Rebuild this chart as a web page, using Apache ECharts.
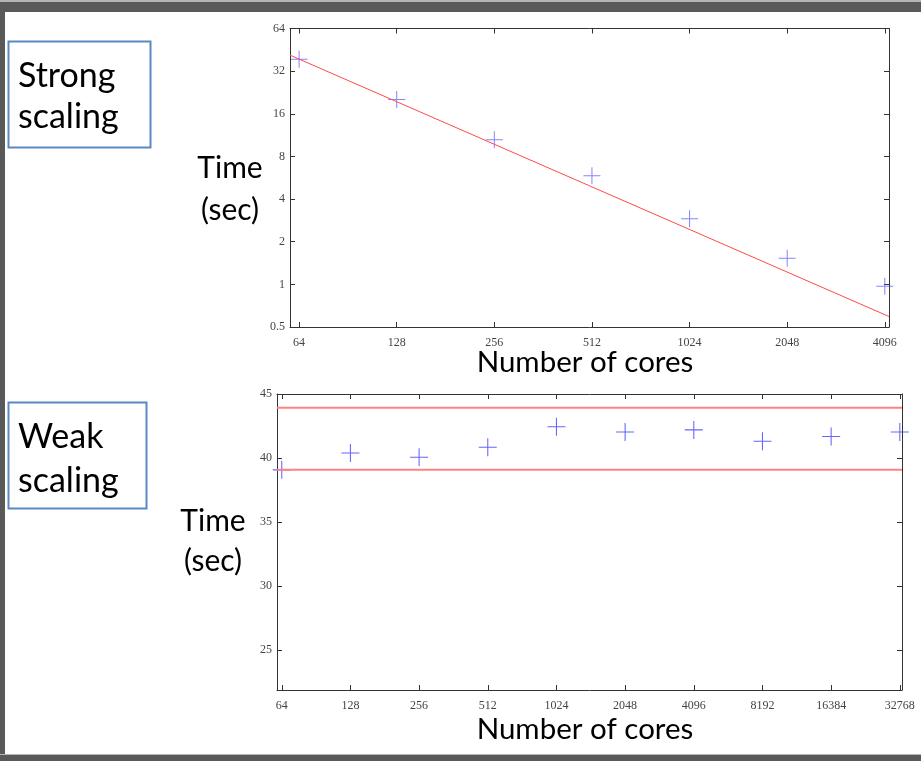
<!DOCTYPE html>
<html>
<head>
<meta charset="utf-8">
<script src="https://cdn.jsdelivr.net/npm/echarts@6/dist/echarts.min.js"></script>
<style>
  html, body { margin: 0; padding: 0; background: #fff; }
  #chart { width: 921px; height: 761px; }
</style>
</head>
<body>
<div id="chart"></div>
<script>
// strong scaling: time per run vs core count
var strongCores = [64, 128, 256, 512, 1024, 2048, 4096];
var strongTime = [38.9, 20.2, 10.5, 5.85, 2.9, 1.53, 0.97];
// ideal line, read at the plot edges
var idealCores = [60, 4220];
var idealTime = [41.5, 0.593];

// weak scaling
var weakCores = [64, 128, 256, 512, 1024, 2048, 4096, 8192, 16384, 32768];
var weakTime = [39.08, 40.4, 40.07, 40.85, 42.45, 42.04, 42.2, 41.32, 41.68, 42.04];
var boundCores = [61, 33500];
var upperBound = 43.93;
var lowerBound = 39.08;

var labelFont = 'Liberation Serif';
var textFont = 'Lato';
var axisColor = '#333';
var plus = 'path://M8,0 L9,0 L9,8 L17,8 L17,9 L9,9 L9,17 L8,17 L8,9 L0,9 L0,8 L8,8 Z';

function isPow2(v) {
    var e = Math.log(v) / Math.LN2;
    return Math.abs(e - Math.round(e)) < 1e-6;
}

function pow2Label(v) {
    return isPow2(v) ? String(Math.round(v)) : '';
}

//坐标轴公共样式，o里的字段覆盖默认值
function axis(o) {
    var base = {
        axisLine: { show: true, onZero: false, lineStyle: { color: axisColor, width: 1 } },
        axisTick: { show: true, inside: true, length: 5, lineStyle: { color: axisColor } },
        splitLine: { show: false },
        axisLabel: {
            show: true,
            fontFamily: labelFont,
            fontSize: 12,
            color: '#444',
            showMinLabel: false,
            showMaxLabel: false
        }
    };
    for (var k in o) {
        if (k === 'axisLabel') {
            for (var j in o[k]) base.axisLabel[j] = o[k][j];
        } else {
            base[k] = o[k];
        }
    }
    return base;
}

function pairs(xs, ys) {
    return xs.map(function (x, i) { return [x, ys[i]]; });
}

function label(x, y, str, size, align) {
    return {
        type: 'text', x: x, y: y,
        style: { text: str, font: size + 'px ' + textFont, fill: '#000', align: align || 'left', verticalAlign: 'middle' }
    };
}

var chart = echarts.init(document.getElementById('chart'));

var option = {
    animation: false,
    backgroundColor: '#fff',
    grid: [
        { left: 290, top: 28.5, width: 599, height: 298.5 },
        { left: 277, top: 394, width: 625, height: 296 }
    ],
    xAxis: [
        axis({ type: 'log', logBase: 2, gridIndex: 0, min: 60, max: 4220, position: 'bottom',
            axisLabel: { margin: 10, formatter: pow2Label } }),
        axis({ type: 'log', logBase: 2, gridIndex: 0, min: 60, max: 4220, position: 'top',
            axisLabel: { show: false } }),
        axis({ type: 'log', logBase: 2, gridIndex: 1, min: 61, max: 33500, position: 'bottom',
            axisLabel: { margin: 10, formatter: pow2Label } }),
        axis({ type: 'log', logBase: 2, gridIndex: 1, min: 61, max: 33500, position: 'top',
            axisLabel: { show: false } })
    ],
    yAxis: [
        axis({ type: 'log', logBase: 2, gridIndex: 0, min: 0.5, max: 64, position: 'left',
            axisLabel: { margin: 5, showMinLabel: true, showMaxLabel: true } }),
        axis({ type: 'log', logBase: 2, gridIndex: 0, min: 0.5, max: 64, position: 'right',
            axisLabel: { show: false } }),
        axis({ type: 'value', gridIndex: 1, min: 21.9, max: 45, position: 'left',
            axisLabel: { margin: 5, showMaxLabel: true } }),
        axis({ type: 'value', gridIndex: 1, min: 21.9, max: 45, position: 'right',
            axisLabel: { show: false } })
    ],
    series: [
        {
            type: 'line', xAxisIndex: 0, yAxisIndex: 0,
            data: pairs(idealCores, idealTime),
            symbol: 'none', clip: true,
            lineStyle: { color: '#ff4a4a', width: 1 }
        },
        {
            type: 'scatter', xAxisIndex: 0, yAxisIndex: 0,
            data: pairs(strongCores, strongTime),
            symbol: plus, symbolSize: 17,
            itemStyle: { color: 'rgba(50,50,255,0.75)' }
        },
        {
            type: 'line', xAxisIndex: 2, yAxisIndex: 2,
            data: pairs(boundCores, [upperBound, upperBound]),
            symbol: 'none', clip: true,
            lineStyle: { color: '#ff8282', width: 2 }
        },
        {
            type: 'line', xAxisIndex: 2, yAxisIndex: 2,
            data: pairs(boundCores, [lowerBound, lowerBound]),
            symbol: 'none', clip: true,
            lineStyle: { color: '#ff8282', width: 2 }
        },
        {
            type: 'scatter', xAxisIndex: 2, yAxisIndex: 2,
            data: pairs(weakCores, weakTime),
            symbol: plus, symbolSize: 18,
            itemStyle: { color: 'rgba(30,30,255,0.85)' }
        }
    ],
    graphic: [
        // slide frame
        { type: 'rect', shape: { x: 0, y: 0, width: 921, height: 2 }, style: { fill: '#b5b5b5' } },
        { type: 'rect', shape: { x: 0, y: 2, width: 921, height: 10 }, style: { fill: '#595959' } },
        { type: 'rect', shape: { x: 0, y: 2, width: 5, height: 759 }, style: { fill: '#595959' } },
        { type: 'rect', shape: { x: 0, y: 754, width: 921, height: 1 }, style: { fill: '#b5b5b5' } },
        { type: 'rect', shape: { x: 0, y: 755, width: 921, height: 6 }, style: { fill: '#595959' } },

        // label boxes
        { type: 'rect', shape: { x: 8.5, y: 41.5, width: 142, height: 106 },
            style: { fill: '#fff', stroke: '#5b87c5', lineWidth: 2 } },
        label(18, 76, 'Strong', 34),
        label(18, 117, 'scaling', 34),

        { type: 'rect', shape: { x: 8.5, y: 402.5, width: 138, height: 106 },
            style: { fill: '#fff', stroke: '#5b87c5', lineWidth: 2 } },
        label(18, 437, 'Weak', 34),
        label(18, 481, 'scaling', 34),

        // axis titles
        label(230, 168, 'Time', 30, 'center'),
        label(230, 210, '(sec)', 30, 'center'),
        label(585, 362, 'Number of cores', 29.5, 'center'),

        label(213, 521, 'Time', 30, 'center'),
        label(213, 561, '(sec)', 30, 'center'),
        label(585, 729, 'Number of cores', 29.5, 'center')
    ]
};

chart.setOption(option);
</script>
</body>
</html>
